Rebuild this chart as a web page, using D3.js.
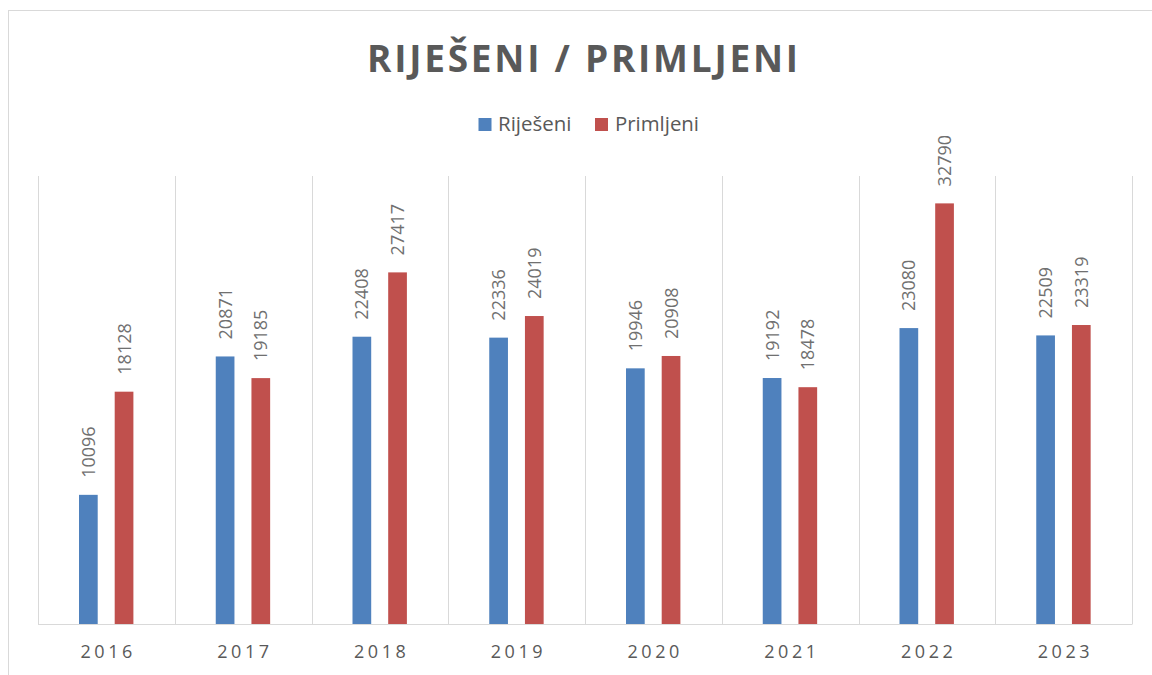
<!DOCTYPE html>
<html>
<head>
<meta charset="utf-8">
<script src="https://cdn.jsdelivr.net/npm/d3@7"></script>
<style>
  html, body { margin: 0; padding: 0; background: #ffffff; }
  svg { display: block; }
  text { font-family: "Open Sans", "Noto Sans", sans-serif; fill: #595959; }
</style>
</head>
<body>
<svg id="chart" width="1152" height="675"></svg>
<script>
const title = "RIJEŠENI / PRIMLJENI";
const categories = ["2016", "2017", "2018", "2019", "2020", "2021", "2022", "2023"];
const seriesNames = ["Riješeni", "Primljeni"];
const rijeseni = [10096, 20871, 22408, 22336, 19946, 19192, 23080, 22509];
const primljeni = [18128, 19185, 27417, 24019, 20908, 18478, 32790, 23319];
const colors = ["#4f81bd", "#c0504d"];

const svg = d3.select("#chart");

// chart border
svg.append("rect")
  .attr("x", 8.5).attr("y", 10.5)
  .attr("width", 1160).attr("height", 700)
  .attr("fill", "none").attr("stroke", "#d9d9d9").attr("stroke-width", 1);

const plot = { left: 38, right: 1132, top: 175, bottom: 624.5 };

const x0 = d3.scaleBand().domain(categories).range([plot.left, plot.right]).padding(0);
const x1 = d3.scaleBand().domain(seriesNames).range([41, 95.4]).paddingInner(0.476).paddingOuter(0);
const y = d3.scaleLinear().domain([0, 35000]).range([plot.bottom, plot.top]);

// vertical category gridlines
const bounds = categories.map(c => x0(c)).concat([x0(categories[categories.length - 1]) + x0.bandwidth()]);
svg.append("g").selectAll("line").data(bounds).join("line")
  .attr("x1", d => Math.round(d) + 0.5).attr("x2", d => Math.round(d) + 0.5)
  .attr("y1", plot.top + 1).attr("y2", plot.bottom)
  .attr("stroke", "#d9d9d9").attr("stroke-width", 1);

// bars
const rows = categories.map((c, i) => ({ cat: c, vals: [rijeseni[i], primljeni[i]] }));
const groups = svg.append("g").selectAll("g").data(rows).join("g")
  .attr("transform", d => `translate(${x0(d.cat)},0)`);

groups.selectAll("rect").data(d => d.vals.map((v, k) => ({ name: seriesNames[k], v, k }))).join("rect")
  .attr("x", d => x1(d.name))
  .attr("width", x1.bandwidth())
  .attr("y", d => y(d.v))
  .attr("height", d => y(0) - y(d.v))
  .attr("fill", d => colors[d.k]);

// data labels (rotated)
groups.selectAll("text").data(d => d.vals.map((v, k) => ({ name: seriesNames[k], v, k }))).join("text")
  .attr("transform", d => `translate(${x1(d.name) + x1.bandwidth() / 2},${y(d.v) - 17}) rotate(-90)`)
  .attr("dy", "0.36em")
  .attr("text-anchor", "start")
  .style("font-size", "18px")
  .style("fill", "#707070")
  .text(d => d.v);

// baseline
svg.append("line")
  .attr("x1", plot.left).attr("x2", plot.right)
  .attr("y1", plot.bottom).attr("y2", plot.bottom)
  .attr("stroke", "#d9d9d9").attr("stroke-width", 1);

// x axis labels
const xAxis = d3.axisBottom(x0).tickSize(0).tickPadding(0);
const gx = svg.append("g").attr("transform", `translate(0,${plot.bottom})`).call(xAxis);
gx.select(".domain").remove();
gx.selectAll("text")
  .attr("y", 33.5).attr("dy", 0)
  .attr("textLength", 52).attr("lengthAdjust", "spacing")
  .style("font-size", "18px")
  .style("font-family", "'Open Sans', sans-serif")
  .attr("fill", "#595959");

// title
svg.append("text")
  .attr("x", 582.5).attr("y", 72)
  .attr("text-anchor", "middle")
  .attr("textLength", 431).attr("lengthAdjust", "spacing")
  .style("font-size", "37px").style("font-weight", "700")
  .text(title);

// legend
const legendItems = [
  { name: seriesNames[0], color: colors[0], sx: 478.5, tx: 498, tl: 73.5 },
  { name: seriesNames[1], color: colors[1], sx: 595, tx: 615, tl: 84 }
];
const lg = svg.append("g");
lg.selectAll("rect").data(legendItems).join("rect")
  .attr("x", d => d.sx).attr("y", 118)
  .attr("width", 13).attr("height", 13)
  .attr("fill", d => d.color);
lg.selectAll("text").data(legendItems).join("text")
  .attr("x", d => d.tx).attr("y", 131)
  .attr("textLength", d => d.tl).attr("lengthAdjust", "spacingAndGlyphs")
  .style("font-size", "20px")
  .text(d => d.name);
</script>
</body>
</html>
